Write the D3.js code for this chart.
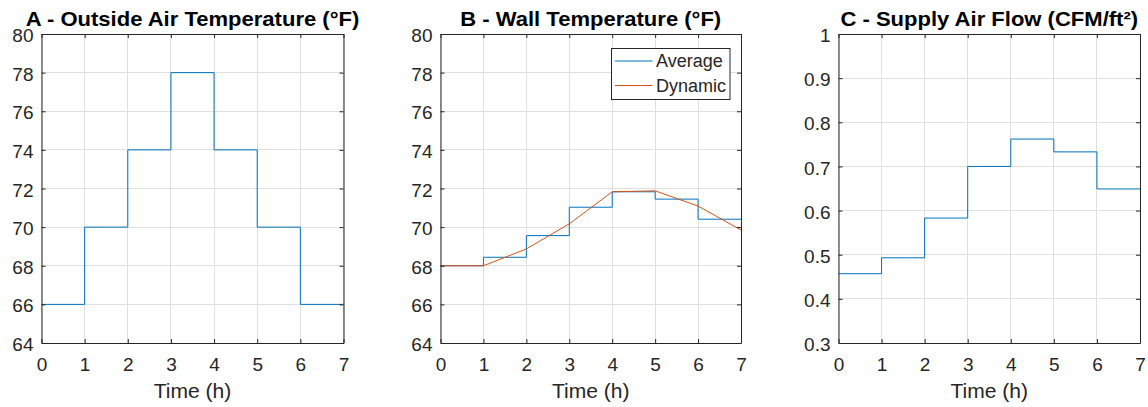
<!DOCTYPE html>
<html><head><meta charset="utf-8">
<script src="https://cdn.jsdelivr.net/npm/d3@7"></script>
<style>body{margin:0;background:#fff;} svg{display:block;font-family:"Liberation Sans",Arial,sans-serif;}</style>
</head><body>
<svg id="c" width="1148" height="407"></svg>
<script>
const hours = [0,1,2,3,4,5,6,7];
const xTicks = [0,1,2,3,4,5,6,7];
const outsideTemp = [66,70,74,78,74,70,66];
const wallAverage = [68,68.44,69.56,71.03,71.83,71.45,70.41];
const wallDynamicTime = [0,1,2,3,4,5,6,7];
const wallDynamic = [68,68,68.87,70.17,71.83,71.88,71.09,69.85];
const supplyAirFlow = [0.457,0.493,0.583,0.700,0.762,0.733,0.649];
const tempTicks = [64,66,68,70,72,74,76,78,80];
const flowTicks = [0.3,0.4,0.5,0.6,0.7,0.8,0.9,1];
const titles = ["A - Outside Air Temperature (°F)","B - Wall Temperature (°F)","C - Supply Air Flow (CFM/ft²)"];
const legendLabels = ["Average","Dynamic"];
const xLabel = "Time (h)";

const BLUE="#0072BD", ORANGE="#D95319", AX="#262626", GRID="#e0e0e0";
const svg = d3.select("#c");

function stepData(vals){ const d = hours.slice(0,vals.length).map((t,i)=>[t,vals[i]]); d.push([hours[vals.length], vals[vals.length-1]]); return d; }

function panel(x0,x1,title,yDomain,yTicks,yFmt,series){
  const top=34,bottom=343;
  const x=d3.scaleLinear().domain([0,7]).range([x0,x1]);
  const y=d3.scaleLinear().domain(yDomain).range([bottom,top]);
  const g=svg.append("g");
  g.append("g").selectAll("line").data(xTicks).join("line")
    .attr("x1",d=>x(d)).attr("x2",d=>x(d)).attr("y1",top).attr("y2",bottom)
    .attr("stroke",GRID).attr("stroke-width",1).attr("shape-rendering","crispEdges");
  g.append("g").selectAll("line").data(yTicks).join("line")
    .attr("y1",d=>y(d)).attr("y2",d=>y(d)).attr("x1",x0).attr("x2",x1)
    .attr("stroke",GRID).attr("stroke-width",1).attr("shape-rendering","crispEdges");
  series.forEach(s=>{
    g.append("path").datum(s.data).attr("fill","none").attr("stroke",s.color).attr("stroke-width",1)
      .attr("d",d3.line().x(d=>x(d[0])).y(d=>y(d[1])).curve(s.step?d3.curveStepAfter:d3.curveLinear));
  });
  const ax=(gen,tr)=>g.append("g").attr("transform",tr).call(gen);
  const xb=ax(d3.axisBottom(x).tickValues(xTicks).tickSizeInner(-4).tickSizeOuter(0).tickPadding(15).tickFormat(d3.format("d")),`translate(0,${bottom})`);
  const xt=ax(d3.axisTop(x).tickValues(xTicks).tickSizeInner(-4).tickSizeOuter(0).tickFormat(""),`translate(0,${top})`);
  const yl=ax(d3.axisLeft(y).tickValues(yTicks).tickSizeInner(-4).tickSizeOuter(0).tickPadding(8).tickFormat(yFmt),`translate(${x0},0)`);
  const yr=ax(d3.axisRight(y).tickValues(yTicks).tickSizeInner(-4).tickSizeOuter(0).tickFormat(""),`translate(${x1},0)`);
  [xb,xt,yl,yr].forEach(a=>{
    a.selectAll(".domain").attr("stroke",AX).attr("stroke-width",1);
    a.selectAll(".tick line").attr("stroke",AX);
    a.selectAll("text").attr("fill",AX).style("font-size","19px").style("font-family","'Liberation Sans',Arial,sans-serif");
  });
  xb.selectAll("text").attr("dy","0.71em");
  yl.selectAll("text").attr("dy","0.4em");
  g.append("text").attr("transform",`translate(${(x0+x1)/2},398) scale(1.08,1)`).attr("text-anchor","middle")
    .style("font-size","19.5px").attr("fill",AX).text(xLabel);
  g.append("text").attr("transform",`translate(${(x0+x1)/2},26) scale(1.13,1)`).attr("text-anchor","middle")
    .style("font-size","19.5px").style("font-weight","bold").attr("fill","#000").text(title);
  return {x,y,g};
}

const fmtInt=d3.format("d");
panel(41.5,343.5,titles[0],[64,80],tempTicks,fmtInt,[{data:stepData(outsideTemp),color:BLUE,step:true}]);
const pb=panel(440.5,741,titles[1],[64,80],tempTicks,fmtInt,[
  {data:stepData(wallAverage),color:BLUE,step:true},
  {data:wallDynamicTime.map((t,i)=>[t,wallDynamic[i]]),color:ORANGE,step:false}]);
panel(838.5,1140,titles[2],[0.3,1],flowTicks,d=>d===1?"1":d.toFixed(1),[{data:stepData(supplyAirFlow),color:BLUE,step:true}]);

const lg=pb.g.append("g");
lg.append("rect").attr("x",611.5).attr("y",48.5).attr("width",118.5).attr("height",51)
  .attr("fill","#fff").attr("stroke",AX).attr("stroke-width",1);
legendLabels.forEach((l,i)=>{
  const yy=61+i*24.5;
  lg.append("line").attr("x1",615).attr("x2",652.5).attr("y1",yy).attr("y2",yy)
    .attr("stroke",i===0?BLUE:ORANGE).attr("stroke-width",1.2);
  lg.append("text").attr("x",656).attr("y",yy).attr("dy","0.36em").style("font-size","18px").attr("fill",AX).text(l);
});
</script>
</body></html>
